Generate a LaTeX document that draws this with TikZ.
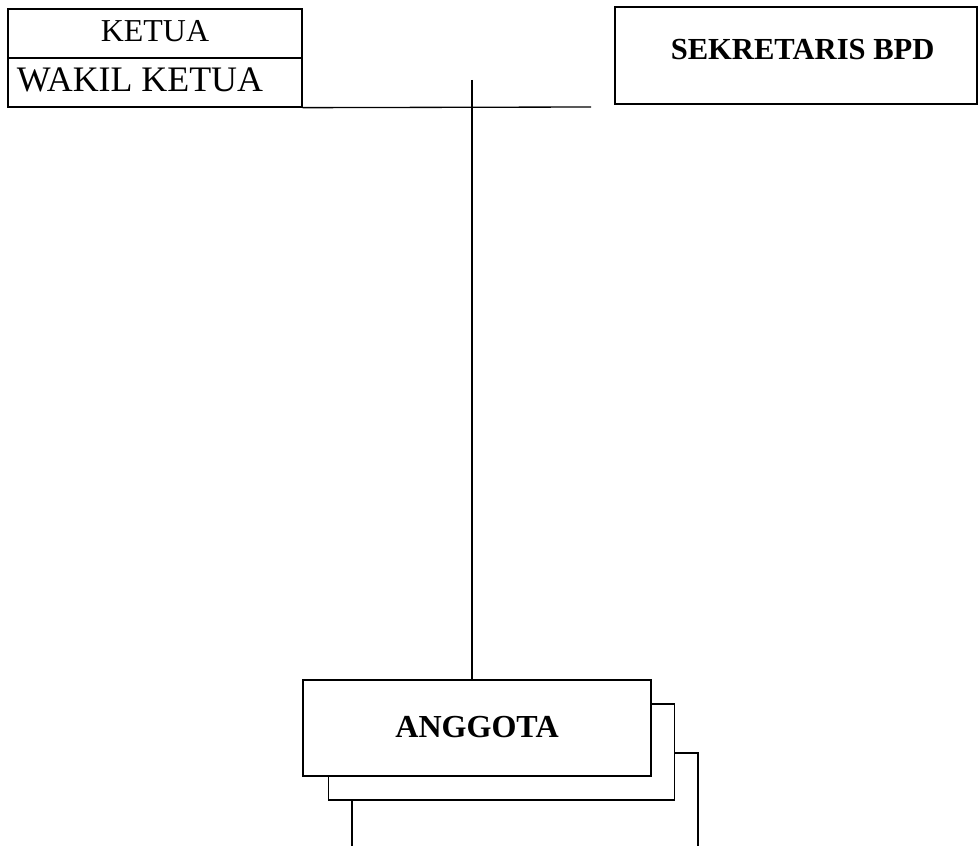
\documentclass[tikz,border=0pt]{standalone}
\usepackage{fontspec}
\setmainfont{Liberation Serif}
\usepackage{tikz}
\usetikzlibrary{positioning}

\begin{document}
\begin{tikzpicture}[
    x=0.34pt, y=-0.34pt,
    line width=0.45pt,
    post/.style={rectangle, draw, inner sep=0pt, minimum width=99.96pt, minimum height=16.66pt, font=\fontsize{10.85}{13}\selectfont},
    head/.style={rectangle, draw, inner sep=0pt, font=\fontsize{10.7}{12}\selectfont\bfseries},
    shade/.style={rectangle, draw, fill=white, inner sep=0pt, minimum width=117.6pt, minimum height=32.64pt},
    link/.style={line width=0.45pt}
]
\useasboundingbox (0,0) rectangle (980,846);
\clip (0,0) rectangle (980,846);

% Blocks - top row
\node[post] (ketua) at (155,33.5) {\raisebox{2pt}{KETUA}};
\node[post, font=\fontsize{12.2}{14}\selectfont] (wakil) at (155,82.5) {\raisebox{1.7pt}{WAKIL KETUA}\hspace*{10.2pt}};
\node[head, font=\fontsize{10.4}{12}\selectfont\bfseries, minimum width=123.1pt, minimum height=33pt] (sekretaris) at (796,55.5) {\hspace*{4.5pt}\raisebox{4pt}{SEKRETARIS BPD}};

% Blocks - members, back to front
\node[shade] (anggota3) at (525,801) {};
\node[shade] (anggota2) at (501.5,752) {};
\node[head, font=\fontsize{10.9}{12}\selectfont\bfseries, fill=white, minimum width=118.3pt, minimum height=32.64pt] (anggota) at (477,728) {\raisebox{0.7pt}{ANGGOTA}};

% Lines
\coordinate (hend) at (591,107);
\coordinate (vtop) at (472,80);
\draw[link] (wakil.south east) -- (hend);
\draw[link] (vtop) -- (vtop |- anggota.north);

\end{tikzpicture}
\end{document}
